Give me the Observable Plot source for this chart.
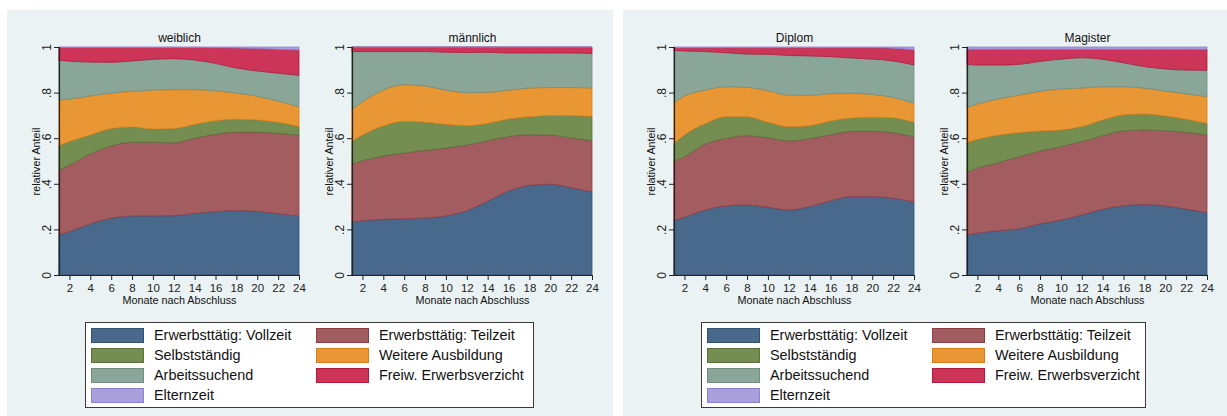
<!DOCTYPE html>
<html>
<head>
<meta charset="utf-8">
<script src="https://cdn.jsdelivr.net/npm/d3@7"></script>
<script src="https://cdn.jsdelivr.net/npm/@observablehq/plot@0.6"></script>
<style>
  body { margin: 0; background: #ffffff; font-family: "Liberation Sans", Arial, sans-serif; }
  #root { position: relative; width: 1227px; height: 416px; overflow: hidden; }
  .region { position: absolute; background: #eaf2f3; }
  .plotbox { position: absolute; width: 300px; height: 300px; }
  .legend { position: absolute; background: #ffffff; border: 1px solid #3a3a3a; box-sizing: border-box; }
  .sw { width: 53px; height: 15px; box-sizing: border-box; border: 1px solid; }
  .lab { position: absolute; font-size: 14.4px; color: #111; white-space: nowrap; line-height: 15px; }
</style>
</head>
<body>
<div id="root"></div>
<script>
// ---- data ----
const months = [1, 2, 4, 6, 8, 10, 12, 14, 16, 18, 20, 22, 24];
const categories = [
  "Erwerbsttätig: Vollzeit",
  "Erwerbsttätig: Teilzeit",
  "Selbstständig",
  "Weitere Ausbildung",
  "Arbeitssuchend",
  "Freiw. Erwerbsverzicht",
  "Elternzeit"
];
const fillColors   = ["#48698b", "#a35d60", "#748e52", "#e99634", "#8aa699", "#cd3558", "#a99fdb"];
const strokeColors = ["#2f5174", "#8c3d43", "#5a7238", "#d97d14", "#6f8e80", "#b01a3e", "#8c80cf"];
const panelTitles = ["weiblich", "männlich", "Diplom", "Magister"];
const xTicks = [2, 4, 6, 8, 10, 12, 14, 16, 18, 20, 22, 24];
const yTicks = [0, 0.2, 0.4, 0.6, 0.8, 1];
const yTickLabels = ["0", ".2", ".4", ".6", ".8", "1"];
const xLabel = "Monate nach Abschluss";
const yLabel = "relativer Anteil";

// shares per category (rows in category order), columns = months
const weiblich = [
  [.175,.19,.224,.249,.259,.259,.26,.27,.279,.282,.279,.269,.259],
  [.285,.292,.307,.317,.323,.323,.32,.33,.338,.345,.348,.352,.355],
  [.107,.103,.083,.076,.067,.058,.062,.061,.06,.056,.053,.049,.037],
  [.201,.187,.171,.156,.157,.171,.171,.152,.131,.115,.104,.093,.087],
  [.174,.166,.149,.135,.133,.135,.136,.13,.12,.11,.111,.122,.138],
  [.056,.06,.064,.065,.059,.052,.049,.055,.069,.088,.098,.105,.111],
  [.002,.002,.002,.002,.002,.002,.002,.002,.003,.004,.007,.01,.013]
];
const maennlich = [
  [.232,.238,.244,.247,.25,.259,.282,.323,.368,.393,.398,.383,.365],
  [.255,.263,.278,.288,.297,.298,.288,.266,.239,.222,.215,.218,.224],
  [.099,.113,.132,.139,.123,.104,.085,.076,.077,.079,.087,.098,.107],
  [.141,.146,.157,.161,.159,.15,.145,.136,.127,.126,.122,.123,.124],
  [.253,.22,.169,.145,.151,.166,.176,.176,.163,.154,.152,.152,.151],
  [.02,.02,.02,.02,.02,.023,.024,.023,.026,.026,.026,.026,.029],
  [0,0,0,0,0,0,0,0,0,0,0,0,0]
];
const diplom = [
  [.238,.253,.285,.303,.307,.297,.285,.30,.325,.344,.344,.336,.32],
  [.261,.266,.29,.296,.304,.305,.303,.298,.29,.286,.286,.288,.285],
  [.078,.095,.089,.095,.083,.068,.063,.057,.06,.059,.062,.065,.065],
  [.18,.171,.147,.132,.129,.138,.138,.133,.12,.108,.10,.09,.083],
  [.228,.198,.169,.149,.146,.16,.174,.173,.163,.155,.155,.16,.168],
  [.012,.014,.017,.022,.028,.029,.034,.036,.039,.045,.05,.056,.067],
  [.003,.003,.003,.003,.003,.003,.003,.003,.003,.003,.003,.005,.012]
];
const magister = [
  [.175,.183,.194,.203,.224,.241,.263,.288,.304,.31,.303,.289,.273],
  [.275,.285,.299,.316,.32,.322,.322,.323,.328,.326,.33,.337,.341],
  [.13,.127,.12,.105,.088,.073,.066,.069,.07,.07,.064,.057,.051],
  [.155,.155,.159,.165,.174,.18,.169,.146,.124,.113,.11,.112,.117],
  [.189,.171,.149,.135,.131,.131,.133,.12,.105,.095,.097,.104,.116],
  [.066,.069,.069,.066,.053,.043,.037,.044,.059,.076,.086,.091,.092],
  [.01,.01,.01,.01,.01,.01,.01,.01,.01,.01,.01,.01,.01]
];
const panels = [weiblich, maennlich, diplom, magister];

// ---- layout ----
const root = document.getElementById("root");
function addRegion(left, top, w, h) {
  const d = document.createElement("div");
  d.className = "region";
  Object.assign(d.style, {left: left + "px", top: top + "px", width: w + "px", height: h + "px"});
  root.appendChild(d);
}
addRegion(7, 10, 606, 406);
addRegion(623, 10, 604, 406);

const fillOf = Object.fromEntries(categories.map((c, i) => [c, fillColors[i]]));
const strokeOf = Object.fromEntries(categories.map((c, i) => [c, strokeColors[i]]));
const plotLefts = [7, 300, 622, 915];

panels.forEach((panel, pi) => {
  const data = categories.flatMap((c, ci) => months.map((m, mi) => ({month: m, cat: c, share: panel[ci][mi]})));
  const chart = Plot.plot({
    width: 300,
    height: 300,
    marginLeft: 52,
    marginRight: 8,
    marginTop: 37,
    marginBottom: 35,
    style: {background: "transparent", fontFamily: "Liberation Sans, Arial, sans-serif", fontSize: "11px", color: "#222"},
    x: {domain: [1, 24]},
    y: {domain: [0, 1]},
    marks: [
      Plot.areaY(data, Plot.stackY({
        x: "month", y: "share", z: "cat",
        fill: d => fillOf[d.cat], stroke: d => strokeOf[d.cat],
        strokeWidth: 0.8, curve: "monotone-x"
      })),
      Plot.ruleX([1], {stroke: "#222", strokeWidth: 1.2}),
      Plot.ruleY([0], {stroke: "#222", strokeWidth: 1}),
      Plot.axisX({ticks: xTicks, tickSize: 5, tickPadding: 3, label: null, fontSize: 11.5}),
      Plot.axisY({ticks: yTicks, tickSize: 5, tickRotate: -90, tickFormat: (d) => yTickLabels[yTicks.indexOf(d)], label: null, fontSize: 12}),
      Plot.text([panelTitles[pi]], {frameAnchor: "top", dy: -9, lineAnchor: "middle", textAnchor: "middle", fontSize: 12, fill: "#111"}),
      Plot.text([xLabel], {frameAnchor: "bottom", dy: 25, lineAnchor: "middle", textAnchor: "middle", fontSize: 10.8, fill: "#111"}),
      Plot.text([yLabel], {frameAnchor: "left", dx: -23, rotate: -90, lineAnchor: "middle", textAnchor: "middle", fontSize: 10.8, fill: "#111"})
    ]
  });
  const box = document.createElement("div");
  box.className = "plotbox";
  Object.assign(box.style, {left: plotLefts[pi] + "px", top: "10px"});
  box.appendChild(chart);
  root.appendChild(box);
});

// ---- legends ----
function addLegend(left, width) {
  const lg = document.createElement("div");
  lg.className = "legend";
  Object.assign(lg.style, {left: left + "px", top: "322px", width: width + "px", height: "86px"});
  categories.forEach((c, i) => {
    const col = i % 2, row = Math.floor(i / 2);
    const top = 5 + row * 20;
    const sw = document.createElement("div");
    sw.className = "sw";
    Object.assign(sw.style, {position: "absolute", left: (5 + col * 225) + "px", top: top + "px",
      background: fillColors[i], borderColor: strokeColors[i]});
    lg.appendChild(sw);
    const lb = document.createElement("div");
    lb.className = "lab";
    lb.textContent = c;
    Object.assign(lb.style, {left: (68 + col * 225) + "px", top: top + "px"});
    lg.appendChild(lb);
  });
  root.appendChild(lg);
}
addLegend(85, 449);
addLegend(701, 445);
</script>
</body>
</html>
